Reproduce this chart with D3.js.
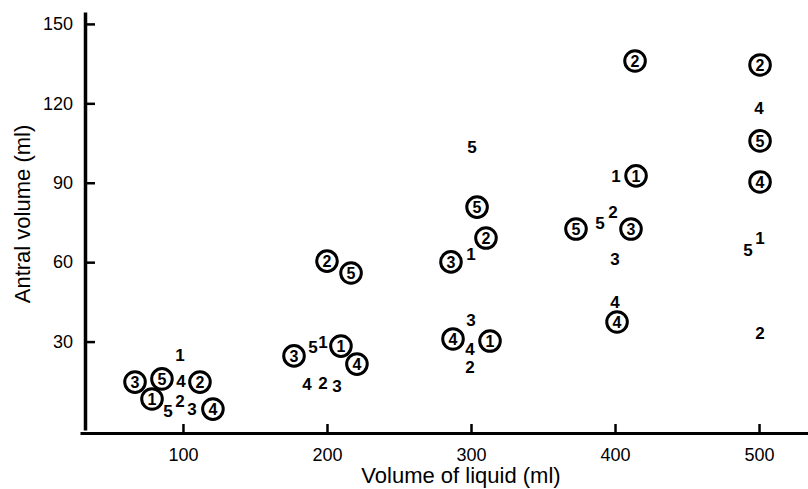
<!DOCTYPE html>
<html>
<head>
<meta charset="utf-8">
<script src="https://cdn.jsdelivr.net/npm/d3@7"></script>
<style>
  body { margin: 0; background: #fff; }
  svg { display: block; font-family: "Liberation Sans", Arial, Helvetica, sans-serif; }
</style>
</head>
<body>
<div id="chart"></div>
<script>
// circled subjects
var circLabels = ['3','5','2','1','4',  '2','5','3','1','4',  '5','2','3','4','1',  '2','1','5','3','4',  '2','5','4'];
var circX      = [66.7,85.4,111.8,78.5,120.8,  200,216.7,177.1,209.7,220.8,  304.2,310.4,286.1,287.5,313.2,  413.9,414.6,372.9,411.1,401.4,  500.7,500.7,500.7];
var circY      = [14.7,15.9,14.7,8.3,4.5,  60.4,55.9,24.6,28.3,21.5,  80.8,69.1,60.1,31.0,30.2,  136,92.6,72.5,72.5,37.4,  134.5,105.8,90.3];

// plain subjects
var plainLabels = ['1','4','5','2','3',  '5','1','4','2','3',  '5','1','3','4','2',  '1','5','2','3','4',  '4','5','1','2'];
var plainX      = [97.9,98.6,89.6,97.9,106.3,  190.3,197.2,186.1,197.2,206.9,  300.7,300,300,299.3,299.3,  400.7,389.6,398.6,400,400,  500,492.4,500.7,500.7];
var plainY      = [24.9,15.1,3.8,7.6,4.5,  28.0,29.8,14.0,14.4,13.2,  103.5,63.1,38.2,27.2,20.4,  92.6,74.8,79.0,61.2,44.9,  118.2,64.6,69.1,33.2];

var xTicks = [100,200,300,400,500];
var yTicks = [30,60,90,120,150];

var width = 808, height = 489;
var svg = d3.select('#chart').append('svg')
  .attr('width', width)
  .attr('height', height);

var x = d3.scaleLinear().domain([28.5,534]).range([80,808]);
var y = d3.scaleLinear().domain([-3.4,154.5]).range([430,12]);

var axisX0 = 433, axisY0 = 85;

// x axis
var gx = svg.append('g')
  .attr('transform','translate(0,'+axisX0+')')
  .call(d3.axisBottom(x).tickValues(xTicks).tickSizeInner(-9).tickSizeOuter(0).tickPadding(15).tickFormat(d3.format('d')));
gx.select('.domain').attr('stroke','#000').attr('stroke-width',3);
gx.selectAll('.tick line').attr('stroke','#000').attr('stroke-width',2.5);
gx.selectAll('.tick text').attr('font-size','18px').attr('fill','#000').attr('font-family','Liberation Sans, Arial, sans-serif');

// y axis
var gy = svg.append('g')
  .attr('transform','translate('+axisY0+',0)')
  .call(d3.axisLeft(y).tickValues(yTicks).tickSizeInner(-10).tickSizeOuter(0).tickPadding(12));
gy.select('.domain').attr('stroke','#000').attr('stroke-width',3.5);
gy.selectAll('.tick line').attr('stroke','#000').attr('stroke-width',2.5);
gy.selectAll('.tick text').attr('font-size','18px').attr('fill','#000').attr('font-family','Liberation Sans, Arial, sans-serif');

// titles
svg.append('text')
  .attr('x',461).attr('y',483)
  .attr('text-anchor','middle')
  .attr('font-size','22px')
  .text('Volume of liquid (ml)');
svg.append('text')
  .attr('transform','translate(30,214) rotate(-90)')
  .attr('text-anchor','middle')
  .attr('font-size','22px')
  .text('Antral volume (ml)');

// circled points
var circ = d3.range(circLabels.length).map(function(i){ return {t:circLabels[i], x:circX[i], y:circY[i]}; });
var cg = svg.append('g').selectAll('g').data(circ).enter().append('g')
  .attr('transform', function(d){ return 'translate('+x(d.x)+','+y(d.y)+')'; });
cg.append('circle')
  .attr('r',10.3)
  .attr('fill','none')
  .attr('stroke','#000')
  .attr('stroke-width',3);
cg.append('text')
  .attr('text-anchor','middle')
  .attr('dy','0.36em')
  .attr('font-size','16px')
  .attr('font-weight','bold')
  .text(function(d){ return d.t; });

// plain points
var plain = d3.range(plainLabels.length).map(function(i){ return {t:plainLabels[i], x:plainX[i], y:plainY[i]}; });
svg.append('g').selectAll('text').data(plain).enter().append('text')
  .attr('x', function(d){ return x(d.x); })
  .attr('y', function(d){ return y(d.y); })
  .attr('text-anchor','middle')
  .attr('dy','0.36em')
  .attr('font-size','17px')
  .attr('font-weight','bold')
  .text(function(d){ return d.t; });
</script>
</body>
</html>
